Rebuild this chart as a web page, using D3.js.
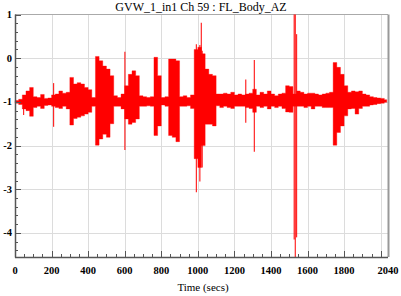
<!DOCTYPE html>
<html>
<head>
<meta charset="utf-8">
<script src="https://cdn.jsdelivr.net/npm/d3@7"></script>
<style>
  html, body { margin: 0; padding: 0; background: #fff; }
  svg text { font-family: "Liberation Serif", "DejaVu Serif", serif; }
</style>
</head>
<body>
<div id="chart"></div>
<script>
// Title / axis text
const chartTitle = "GVW_1_in1 Ch 59 : FL_Body_AZ";
const xLabel = "Time (secs)";
const xTicks = [0, 200, 400, 600, 800, 1000, 1200, 1400, 1600, 1800, 2040];
const yTicks = [1, 0, -1, -2, -3, -4];

// Signal envelope: [start time (s), max, min] per 20 s bucket
const envelope = [
  [0, -0.97, -1.03], [20, -0.94, -1.06], [40, -0.84, -1.16], [60, -0.75, -1.20],
  [80, -0.67, -1.33], [100, -0.88, -1.13], [120, -0.90, -1.10], [140, -0.83, -1.15],
  [160, -0.92, -1.08], [180, -0.91, -1.07], [200, -0.84, -1.10], [220, -0.82, -1.13],
  [240, -0.75, -1.15], [260, -0.80, -1.10], [280, -0.78, -1.16], [300, -0.44, -1.53],
  [320, -0.59, -1.38], [340, -0.56, -1.35], [360, -0.59, -1.32], [380, -0.67, -1.28],
  [400, -0.72, -1.24], [420, -0.90, -1.10], [440, 0.04, -1.99], [460, -0.06, -1.85],
  [480, -0.18, -1.74], [500, -0.25, -1.81], [520, -0.40, -1.50], [540, -0.86, -1.10],
  [560, -0.90, -1.10], [580, -0.82, -1.16], [600, -0.63, -1.39], [620, -0.37, -1.51],
  [640, -0.29, -1.47], [660, -0.40, -1.39], [680, -0.86, -1.10], [700, -0.88, -1.10],
  [720, -0.90, -1.09], [740, -0.88, -1.10], [760, 0.02, -1.77], [780, -0.40, -1.55],
  [800, -0.90, -1.07], [820, -0.88, -1.10], [840, -0.02, -1.77], [860, -0.02, -1.81],
  [880, -0.06, -1.91], [900, -0.88, -1.10], [920, -0.86, -1.10], [940, -0.90, -1.09],
  [960, -0.84, -1.15], [980, 0.20, -2.30], [1000, 0.25, -2.50], [1020, 0.10, -2.00],
  [1040, -0.25, -1.51], [1060, -0.37, -1.51], [1080, -0.40, -1.55], [1100, -0.82, -1.09],
  [1120, -0.82, -1.13], [1140, -0.80, -1.10], [1160, -0.82, -1.13], [1180, -0.78, -1.15],
  [1200, -0.84, -1.10], [1220, -0.82, -1.10], [1240, -0.84, -1.10], [1260, -0.82, -1.13],
  [1280, -0.80, -1.15], [1300, -0.71, -1.24], [1320, -0.84, -1.10], [1340, -0.78, -1.13],
  [1360, -0.82, -1.10], [1380, -0.75, -1.16], [1400, -0.82, -1.10], [1420, -0.86, -1.13],
  [1440, -0.82, -1.10], [1460, -0.80, -1.15], [1480, -0.63, -1.23], [1500, -0.65, -1.24],
  [1520, -0.82, -1.10], [1540, -0.75, -1.10], [1560, -0.78, -1.10], [1580, -0.82, -1.13],
  [1600, -0.80, -1.10], [1620, -0.80, -1.16], [1640, -0.82, -1.10], [1660, -0.84, -1.10],
  [1680, -0.82, -1.13], [1700, -0.80, -1.13], [1720, -0.78, -1.13], [1740, -0.10, -1.99],
  [1760, -0.21, -1.70], [1780, -0.37, -1.55], [1800, -0.63, -1.32], [1820, -0.78, -1.16],
  [1840, -0.75, -1.15], [1860, -0.77, -1.28], [1880, -0.75, -1.15], [1900, -0.82, -1.10],
  [1920, -0.84, -1.10], [1940, -0.88, -1.07], [1960, -0.90, -1.06], [1980, -0.91, -1.04],
  [2000, -0.92, -1.03], [2020, -0.95, -1.01], [2033, -0.95, -1.01]
];

// Narrow spikes: [time (s), max, min]
const spikes = [
  [47, -0.90, -1.30], [211, -0.57, -1.57], [601, 0.15, -2.10],
  [992, 0.32, -3.07], [1011, 0.30, -2.82], [1019, 0.81, -2.00], [1024, 0.17, -2.50],
  [1262, -0.49, -1.48], [1309, -0.04, -2.14],
  [1527, 1.00, -4.15], [1533, 1.00, -4.55], [1540, 0.55, -4.10]
];

const width = 401, height = 296;
const plot = { left: 15, right: 388, top: 14.5, bottom: 257 };

const svg = d3.select("#chart").append("svg")
  .attr("width", width).attr("height", height);

const x = d3.scaleLinear().domain([0, 2040]).range([plot.left, plot.right]);
const y = d3.scaleLinear().domain([-4.55, 1]).range([plot.bottom, plot.top]);

// grid
const grid = svg.append("g").attr("stroke", "#dcdcdc").attr("stroke-width", 1);
grid.selectAll("line.vg").data(d3.range(200, 2040, 200)).join("line")
  .attr("x1", d => Math.round(x(d)) + 0.5).attr("x2", d => Math.round(x(d)) + 0.5)
  .attr("y1", plot.top).attr("y2", plot.bottom);
grid.selectAll("line.hg").data(yTicks.filter(d => d !== 1)).join("line")
  .attr("y1", d => Math.round(y(d)) + 0.5).attr("y2", d => Math.round(y(d)) + 0.5)
  .attr("x1", plot.left).attr("x2", plot.right);

// frame (top / right)
svg.append("line").attr("x1", plot.left).attr("x2", plot.right)
  .attr("y1", plot.top).attr("y2", plot.top).attr("stroke", "#aaa");
svg.append("line").attr("x1", plot.right + 0.5).attr("x2", plot.right + 0.5)
  .attr("y1", plot.top).attr("y2", plot.bottom).attr("stroke", "#999").attr("stroke-width", 2);

// signal envelope as one stepped band
const band = d3.area()
  .curve(d3.curveStepAfter)
  .x(d => x(d[0]))
  .y0(d => y(d[2]))
  .y1(d => y(d[1]));
svg.append("path").datum(envelope)
  .attr("d", band)
  .attr("fill", "#ff0000")
  .attr("stroke", "#ff0000").attr("stroke-width", 0.6).attr("stroke-opacity", 0.6);

svg.append("g").attr("stroke", "#ff0000").attr("stroke-width", 1.2).attr("stroke-opacity", 0.85)
  .selectAll("line").data(spikes).join("line")
  .attr("x1", d => x(d[0])).attr("x2", d => x(d[0]))
  .attr("y1", d => y(d[1])).attr("y2", d => y(d[2]));

// axes
const axisColor = "#555";
const yAxis = svg.append("g").attr("stroke", axisColor);
yAxis.append("line").attr("x1", plot.left + 0.5).attr("x2", plot.left + 0.5)
  .attr("y1", plot.top).attr("y2", plot.bottom + 0.5).attr("stroke-width", 1.5);
yAxis.selectAll("line.minor").data(d3.range(-4.4, 1.0001, 0.2)).join("line")
  .attr("x1", plot.left).attr("x2", d => plot.left + (Math.abs(d - Math.round(d)) < 1e-6 ? 6 : 3))
  .attr("y1", d => Math.round(y(d)) + 0.5).attr("y2", d => Math.round(y(d)) + 0.5);

const xAxis = svg.append("g").attr("stroke", axisColor);
xAxis.append("line").attr("x1", plot.left).attr("x2", plot.right)
  .attr("y1", plot.bottom + 0.5).attr("y2", plot.bottom + 0.5).attr("stroke-width", 1.5);
xAxis.selectAll("line.minor").data(d3.range(0, 2040, 50)).join("line")
  .attr("x1", d => Math.round(x(d)) + 0.5).attr("x2", d => Math.round(x(d)) + 0.5)
  .attr("y1", plot.bottom).attr("y2", d => plot.bottom - (d % 200 === 0 ? 6 : 3));

// tick labels
svg.append("g").selectAll("text").data(xTicks).join("text")
  .attr("x", d => x(d)).attr("y", 274)
  .attr("text-anchor", "middle").attr("font-size", 10.5).attr("font-weight", "bold")
  .text(d => d);
svg.append("g").selectAll("text").data(yTicks).join("text")
  .attr("x", 12).attr("y", d => y(d) + 3.5)
  .attr("text-anchor", "end").attr("font-size", 10.5).attr("font-weight", "bold")
  .text(d => d);

svg.append("text").attr("x", 201).attr("y", 11).attr("text-anchor", "middle")
  .attr("font-size", 12).text(chartTitle);
svg.append("text").attr("x", 203).attr("y", 291).attr("text-anchor", "middle")
  .attr("font-size", 11).text(xLabel);
</script>
</body>
</html>
